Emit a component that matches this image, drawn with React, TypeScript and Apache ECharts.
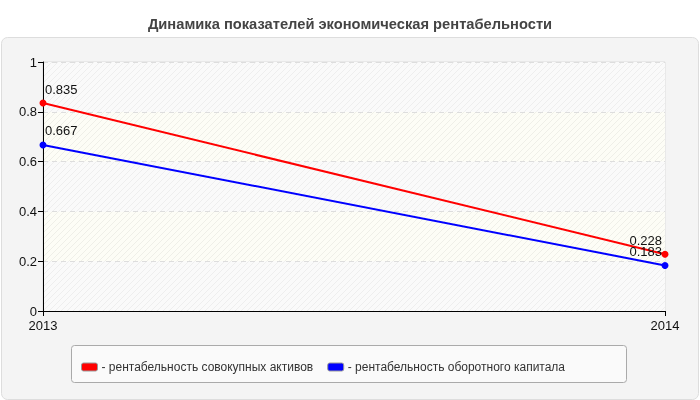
import React, { useEffect, useRef } from "react";
import * as echarts from "echarts";

const title = "Динамика показателей экономическая рентабельности";
const years = ["2013", "2014"];
const seriesNames = [
  "рентабельность совокупных активов",
  "рентабельность оборотного капитала",
];
const assetsValues = [0.835, 0.228];
const capitalValues = [0.667, 0.183];
const seriesColors = ["#ff0000", "#0000ff"];

function hatch(bg: string, line: string) {
  const svg = `<svg xmlns='http://www.w3.org/2000/svg' width='6' height='6'><rect width='6' height='6' fill='${bg}'/><path d='M-1,7 L7,-1 M-1,1 L1,-1 M5,7 L7,5' stroke='${line}' stroke-width='1'/></svg>`;
  return {
    image: "data:image/svg+xml;charset=utf-8," + encodeURIComponent(svg),
    repeat: "repeat",
  } as any;
}

export default function App() {
  const ref = useRef<HTMLDivElement>(null);
  useEffect(() => {
    if (!ref.current) return;
    const chart = echarts.init(ref.current, undefined, { renderer: "svg" });
    const font = "'Liberation Sans', Arial, sans-serif";
    const mkSeries = (name: string, data: number[], color: string) => ({
      name,
      type: "line",
      data: data.map((v, i) => ({
        value: v,
        label: { align: i === 0 ? "left" : "right", offset: i === 0 ? [2, 0] : [-3, 0] },
      })),
      symbol: "circle",
      symbolSize: 7,
      lineStyle: { color, width: 2 },
      itemStyle: { color },
      label: {
        show: true,
        position: "top",
        distance: 4,
        color: "#111",
        fontSize: 13,
        fontFamily: font,
        formatter: (p: any) => String(p.value),
      },
    });
    chart.setOption({
      animation: false,
      textStyle: { fontFamily: font },
      title: {
        text: title,
        left: "center",
        top: 11,
        textStyle: { fontSize: 14.7, fontWeight: "bold", color: "#444", fontFamily: font },
      },
      graphic: [
        {
          type: "rect",
          z: -10,
          shape: { x: 1.5, y: 37.5, width: 697, height: 362, r: 6 },
          style: { fill: "#f4f4f4", stroke: "#dddddd", lineWidth: 1 },
        },
        {
          type: "rect",
          z: -5,
          shape: { x: 71.5, y: 345.5, width: 555, height: 37, r: 3 },
          style: { fill: "#fafafa", stroke: "#aaaaaa", lineWidth: 1 },
        },
      ],
      grid: {
        left: 43,
        right: 35,
        top: 62,
        bottom: 89,
        show: true,
        backgroundColor: "#fafafa",
        borderColor: "#dddddd",
        borderWidth: 1,
      },
      legend: {
        left: 76,
        top: 356,
        itemWidth: 16,
        itemHeight: 8,
        itemGap: 14,
        icon: "roundRect",
        formatter: (n: string) => "- " + n,
        textStyle: { fontSize: 12, color: "#333", fontFamily: font, padding: [0, 0, 0, -1] },
        data: seriesNames.map((n, i) => ({
          name: n,
          itemStyle: { color: seriesColors[i], borderColor: "#999", borderWidth: 1 },
        })),
      },
      xAxis: {
        type: "category",
        data: years,
        boundaryGap: false,
        axisLine: { lineStyle: { color: "#000" } },
        axisTick: { show: true, length: 5, lineStyle: { color: "#000" } },
        axisLabel: { color: "#111", fontSize: 13, margin: 8, fontFamily: font },
        splitLine: { show: false },
      },
      yAxis: {
        type: "value",
        min: 0,
        max: 1,
        interval: 0.2,
        axisLine: { show: true, lineStyle: { color: "#000" } },
        axisTick: { show: true, length: 5, lineStyle: { color: "#000" } },
        axisLabel: { color: "#111", fontSize: 13, margin: 6, fontFamily: font },
        splitLine: { show: true, lineStyle: { color: "#dddddd", type: [5, 4] } },
        splitArea: {
          show: true,
          areaStyle: {
            color: [hatch("#fafafa", "#eeeeee"), hatch("#fdfdf6", "#efefe8")],
          },
        },
      },
      series: [
        mkSeries(seriesNames[0], assetsValues, seriesColors[0]),
        mkSeries(seriesNames[1], capitalValues, seriesColors[1]),
      ],
    });
    return () => chart.dispose();
  }, []);
  return (
    <div
      ref={ref}
      style={{ position: "fixed", left: 0, top: 0, width: 700, height: 400 }}
    />
  );
}
